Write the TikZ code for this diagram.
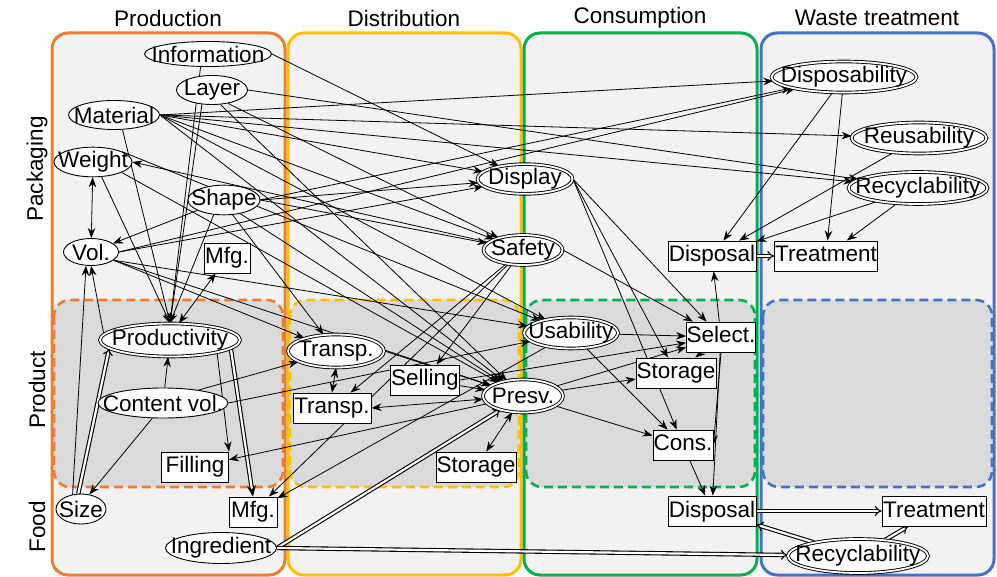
\documentclass[tikz,border=0pt]{standalone}
\usepackage{fontspec}
\setmainfont{Liberation Sans}
\usetikzlibrary{shapes.geometric,arrows.meta}
\pgfdeclarelayer{frames}
\pgfdeclarelayer{edges}
\pgfsetlayers{frames,edges,main}
\definecolor{cOr}{HTML}{ED7D31}
\definecolor{cYe}{HTML}{FFC000}
\definecolor{cGr}{HTML}{00B050}
\definecolor{cBl}{HTML}{4472C4}
\definecolor{cBg}{HTML}{F2F2F2}
\definecolor{cIn}{HTML}{DADADA}
\newcommand{\zw}[1]{\makebox[0pt]{#1}}
\tikzset{
  frame/.style={line width=3pt, rounded corners=16pt, fill=cBg},
  inbox/.style={line width=2.6pt, dash pattern=on 9pt off 5pt, rounded corners=16pt, fill=cIn},
  el/.style={ellipse, draw, fill=white, inner sep=0pt, minimum height=29pt, line width=0.9pt},
  del/.style={ellipse, draw, double, double distance=1.8pt, fill=white, inner sep=0pt, minimum height=31pt, line width=0.9pt},
  bx/.style={rectangle, draw, fill=white, inner sep=0pt, text height=16.5pt, text depth=4.5pt, minimum height=30pt, line width=0.9pt},
  ed/.style={-{Stealth[length=10pt,width=7.5pt]}, line width=0.8pt},
  bi/.style={{Stealth[length=10pt,width=7.5pt]}-{Stealth[length=10pt,width=7.5pt]}, line width=0.8pt},
  dbl/.style={double, double distance=2.2pt, line width=1.1pt, -{Implies}},
  dbls/.style={double, double distance=2.2pt, line width=1.1pt, -{Stealth[length=11pt,width=9pt]}},
  ttl/.style={inner sep=0pt}
}
\begin{document}
\begin{tikzpicture}[x=1pt,y=-1pt,font=\fontsize{22.5}{26}\selectfont]
\useasboundingbox (0,0) rectangle (997,577);
\begin{pgfonlayer}{frames}
\draw[frame, draw=cOr] (52,33) rectangle (285,575);
\draw[frame, draw=cYe] (288,33) rectangle (521,575);
\draw[frame, draw=cGr] (524,33) rectangle (757,575);
\draw[frame, draw=cBl] (761,33) rectangle (994,575);
\draw[inbox, draw=cOr] (54,300) rectangle (283,487);
\draw[inbox, draw=cYe] (290,300) rectangle (519,487);
\draw[inbox, draw=cGr] (526,300) rectangle (755,487);
\draw[inbox, draw=cBl] (763,300) rectangle (992,487);
\end{pgfonlayer}
% titles
\node[ttl] (tProd) at (168,18) {Production};
\node[ttl] (tDist) at (404,18) {Distribution};
\node[ttl] (tCons) at (640,18) {Consumption};
\node[ttl] (tWaste) at (877,18) {Waste treatment};
\node[ttl, rotate=90] (rPack) at (37,169) {Packaging};
\node[ttl, rotate=90] (rProd) at (37,390) {Product};
\node[ttl, rotate=90] (rFood) at (37,527) {Food};
% production
\node[el, minimum width=127pt, minimum height=25pt] (info) at (208,54) {\zw{Information}};
\node[el, minimum width=71pt] (layer) at (212,90) {\zw{Layer}};
\node[el, minimum width=91pt] (mat) at (114,115) {\zw{Material}};
\node[el, minimum width=78pt] (wgt) at (93,162) {\zw{Weight}};
\node[el, minimum width=72pt] (shape) at (224,200) {\zw{Shape}};
\node[el, minimum width=55pt, minimum height=27pt] (vol) at (91,252) {\zw{Vol.}};
\node[bx, minimum width=46pt] (mfgp) at (227,258) {Mfg.};
\node[del, minimum width=140pt, minimum height=33pt] (prod) at (170,340) {\zw{Productivity}};
\node[el, minimum width=130pt, minimum height=30pt] (cvol) at (163,403) {\zw{Content vol.}};
\node[bx, minimum width=67pt] (fill) at (195,467) {Filling};
\node[el, minimum width=50pt, minimum height=30pt] (size) at (81,509) {\zw{Size}};
\node[bx, minimum width=48pt] (mfgf) at (253,512) {Mfg.};
\node[el, minimum width=111pt, minimum height=31pt] (ingr) at (221,548) {\zw{Ingredient}};
% distribution
\node[del, minimum width=95pt, minimum height=29pt] (disp) at (525,179) {\zw{Display}};
\node[del, minimum width=79pt, minimum height=30pt] (safe) at (523,250) {\zw{Safety}};
\node[del, minimum width=96pt, minimum height=33pt] (tre) at (336,351) {\zw{Transp.}};
\node[bx, minimum width=78pt] (trb) at (332,408) {Transp.};
\node[bx, minimum width=69pt] (sell) at (425,380) {Selling};
\node[del, minimum width=80pt, minimum height=33pt] (presv) at (523,396) {\zw{Presv.}};
\node[bx, minimum width=80pt] (stod) at (476,467) {Storage};
% consumption
\node[del, minimum width=94pt, minimum height=31pt] (usab) at (571,333) {\zw{Usability}};
\node[bx, minimum width=67pt] (sel) at (721,337) {Select.};
\node[bx, minimum width=80pt] (stoc) at (676,373) {Storage};
\node[bx, minimum width=60pt] (cons) at (683,445) {Cons.};
\node[bx, minimum width=88pt] (dispp) at (712,256) {Disposal};
\node[bx, minimum width=88pt] (dispf) at (712,511) {Disposal};
% waste
\node[del, minimum width=145pt, minimum height=31pt] (dsb) at (844,77) {\zw{Disposability}};
\node[del, minimum width=135pt, minimum height=31pt] (reu) at (919,138) {\zw{Reusability}};
\node[del, minimum width=139pt, minimum height=32pt] (rec) at (918,188) {\zw{Recyclability}};
\node[bx, minimum width=103pt] (trp) at (826,256) {Treatment};
\node[bx, minimum width=104pt] (trf) at (934,511) {Treatment};
\node[del, minimum width=140pt, minimum height=34pt] (recf) at (858,556) {\zw{Recyclability}};

\begin{pgfonlayer}{edges}
% into productivity
\draw[ed] (info.240) -- (prod.north);
\draw[ed] (layer.235) -- (prod.north);
\draw[ed] (mat.300) -- (prod.north);
\draw[ed] (wgt.300) -- (prod.north);
\draw[ed] (shape.235) -- (prod.north);
% information
\draw[ed] (info.east) -- (disp);
% material fan
\draw[ed] (mat.east) -- (dsb);
\draw[ed] (mat.east) -- (reu);
\draw[ed] (mat.east) -- (rec);
\draw[ed] (mat.east) -- (disp);
\draw[ed] (mat.east) -- (safe);
\draw[ed] (mat.east) -- (usab);
\draw[ed] (mat.east) -- (presv);
% layer
\draw[ed] (layer.east) -- (rec);
\draw[ed] (layer.320) -- (safe);
\draw[ed] (layer.300) -- (presv);
% weight
\draw[bi] (wgt) -- (vol);
\draw[ed] (wgt.20) -- (usab);
\draw[ed] (wgt.340) -- (presv);
\draw[ed] (safe) -- (wgt.east);
% shape
\draw[ed] (shape) -- (vol);
\draw[ed] (shape.east) -- (disp);
\draw[ed] (shape.east) -- (safe);
\draw[ed] (shape.east) -- (dsb);
\draw[ed] (shape.300) -- (tre);
\draw[ed] (shape.320) -- (presv);
% vol
\draw[ed] (vol.east) -- (disp);
\draw[ed] (vol.east) -- (dsb);
\draw[ed] (vol.340) -- (usab);
\draw[ed] (vol.340) -- (presv);
\draw[ed] (vol.340) -- (tre);
% mfg pack
\draw[bi] (mfgp) -- (prod.62);
% product level
\draw[dbl] (size.100) -- (prod.188);
\draw[dbls] (prod.352) -- (mfgf.north);
\draw[ed] (prod.345) -- (fill.north east);
\draw[ed] (prod.175) -- (vol.south);
\draw[ed] (size.120) -- (vol.250);
\draw[ed] (cvol) -- (prod);
\draw[ed] (cvol.235) -- (size.60);
\draw[ed] (cvol.20) -- (tre);
\draw[ed] (cvol.east) -- (usab);
% distribution
\draw[bi] (tre.south) -- (trb.north);
\draw[bi] (trb.east) -- (presv);
\draw[ed] (sell) -- (presv);
\draw[bi] (stod) -- (presv);
\draw[ed] (tre.east) -- (presv);
\draw[ed] (safe) -- (sell);
\draw[ed] (safe) -- (trb);
\draw[ed] (presv) -- (fill);
\draw[ed] (safe) -- (mfgf);
\draw[ed] (usab) -- (mfgf);
\draw[dbl] (ingr.east) -- (presv);
\draw[dbl] (ingr.east) -- (recf);
\draw[ed] (sell.east) -- (sel);
% consumption
\draw[ed] (disp.east) -- (sel);
\draw[ed] (disp.east) -- (stoc);
\draw[ed] (disp.east) -- (cons);
\draw[ed] (safe.east) -- (sel);
\draw[ed] (usab) -- (sel);
\draw[ed] (usab) -- (cons);
\draw[ed] (presv) -- (sel);
\draw[ed] (presv) -- (stoc);
\draw[ed] (presv) -- (cons);
\draw[ed] (sel) -- (stoc);
\draw[ed] (sel) -- (dispp);
\draw[ed] (sel.south) -- (cons.east);
\draw[ed] (sel) -- (dispf);
\draw[ed] (cons) -- (dispf);
% waste
\draw[dbl] (dispp) -- (trp);
\draw[ed] (dsb) -- (dispp);
\draw[ed] (dsb) -- (trp);
\draw[ed] (reu) -- (dispp);
\draw[ed] (rec) -- (dispp);
\draw[ed] (rec) -- (trp);
\draw[dbl] (dispf) -- (trf);
\draw[dbl] (recf) -- (trf);
\draw[dbl] (recf) -- (dispf);
\end{pgfonlayer}
\end{tikzpicture}
\end{document}
